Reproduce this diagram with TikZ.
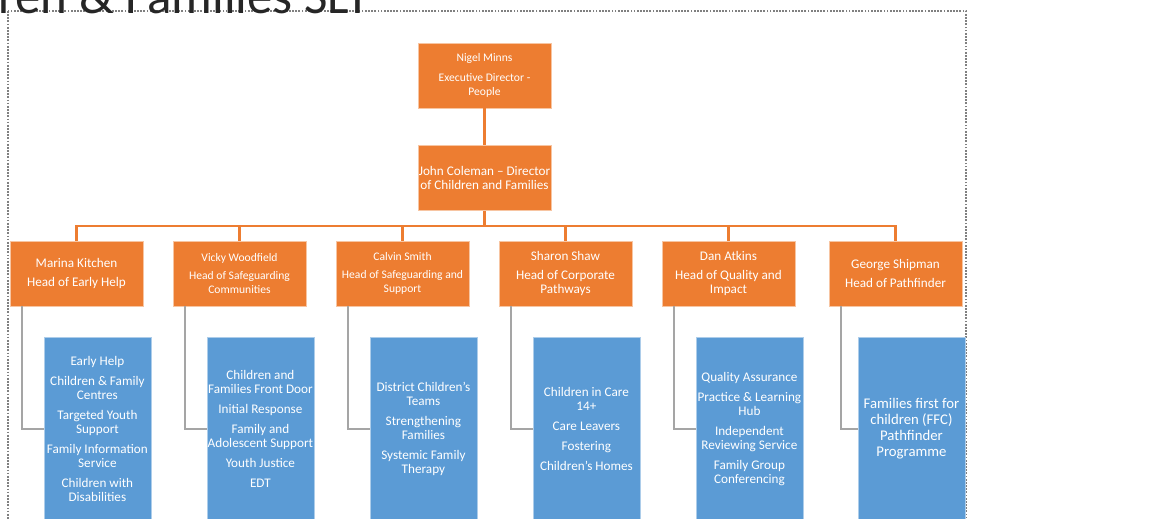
\documentclass[tikz,border=0pt]{standalone}
\usepackage{fontspec}
\setmainfont{Carlito}
\usepackage{xcolor}
\usetikzlibrary{positioning}

\definecolor{slorange}{HTML}{ED7D31}
\definecolor{slblue}{HTML}{5B9BD5}
\definecolor{slgrey}{HTML}{A5A5A5}

\newcommand{\bigtxt}{\fontsize{7.5}{8}\selectfont}
\newcommand{\smalltxt}{\fontsize{6.6}{7.9}\selectfont}

\begin{document}
\begin{tikzpicture}[
    x=0.02cm, y=-0.02cm,
    node distance=0.6cm,
    head/.style={rectangle, draw=slorange!45!white, line width=0.5pt, fill=slorange, text=white, minimum width=2.66cm, minimum height=1.3cm, align=center, inner sep=0pt, font=\bigtxt},
    smallhead/.style={head, font=\smalltxt},
    unit/.style={rectangle, draw=slblue!50!white, line width=0.4pt, fill=slblue, text=white, minimum width=2.14cm, minimum height=3.64cm, align=center, inner sep=0pt, font=\bigtxt},
    orgline/.style={draw=slorange, line width=1.3pt},
    greyline/.style={draw=slgrey, line width=1.2pt},
    frame/.style={draw=gray, line width=0.6pt, dash pattern=on 1pt off 0.8pt}
]

\useasboundingbox (0,0) rectangle (1175,519);
\clip (0,0) rectangle (1175,519);

% Slide frame and title
\draw[frame] (8,11) rectangle (966,540);
\node[anchor=base west, inner sep=0pt, text=black!85, font=\fontsize{29}{30}\selectfont] (title) at (-2,14) {ren \& Families SLT};

% Directors
\node[smallhead] (nigel) at (484.5,75.5) {Nigel Minns\\[3.4pt] Executive Director -\\ People};
\node[head, below=0.74cm of nigel] (john) {John Coleman -- Director\\ of Children and Families};

% Heads of service
\node[head] (marina) at (76.5,273.5) {Marina Kitchen\\[3.3pt] Head of Early Help};
\node[smallhead] (vicky) at (239.5,273.5) {Vicky Woodfield\\[2.3pt] Head of Safeguarding\\ Communities};
\node[smallhead] (calvin) at (402.5,273.5) {Calvin Smith\\[2.3pt] Head of Safeguarding and\\ Support};
\node[head] (sharon) at (565.5,273.5) {Sharon Shaw\\[3.3pt] Head of Corporate\\ Pathways};
\node[head] (dan) at (728.5,273.5) {Dan Atkins\\[3.3pt] Head of Quality and\\ Impact};
\node[head] (george) at (895.5,273.5) {George Shipman\\[3.3pt] Head of Pathfinder};

% Service areas
\node[unit, below right=0.62cm and 0.68cm of marina.south west] (marinaunit) {Early Help\\[3.3pt] Children \& Family\\ Centres\\[3.3pt] Targeted Youth\\ Support\\[3.3pt] Family Information\\ Service\\[3.3pt] Children with\\ Disabilities};
\node[unit, below right=0.62cm and 0.68cm of vicky.south west] (vickyunit) {Children and\\ Families Front Door\\[3.3pt] Initial Response\\[3.3pt] Family and\\ Adolescent Support\\[3.3pt] Youth Justice\\[3.3pt] EDT};
\node[unit, below right=0.62cm and 0.68cm of calvin.south west] (calvinunit) {District Children’s\\ Teams\\[3.3pt] Strengthening\\ Families\\[3.3pt] Systemic Family\\ Therapy};
\node[unit, below right=0.62cm and 0.68cm of sharon.south west] (sharonunit) {Children in Care\\ 14+\\[3.3pt] Care Leavers\\[3.3pt] Fostering\\[3.3pt] Children’s Homes};
\node[unit, below right=0.62cm and 0.68cm of dan.south west] (danunit) {Quality Assurance\\[3.3pt] Practice \& Learning\\ Hub\\[3.3pt] Independent\\ Reviewing Service\\[3.3pt] Family Group\\ Conferencing};
\node[unit, below right=0.62cm and 0.58cm of george.south west, font=\fontsize{8.4}{9}\selectfont] (georgeunit) {Families first for\\ children (FFC)\\ Pathfinder\\ Programme};

% Reporting lines
\coordinate (bus) at (484.5,226);
\draw[orgline] (nigel) -- (john);
\draw[orgline] (john.south) -- (john.south |- bus);
\draw[orgline] (marina.north) |- (bus) -| (george.north);
\draw[orgline] (vicky.north) -- (vicky.north |- bus);
\draw[orgline] (calvin.north) -- (calvin.north |- bus);
\draw[orgline] (sharon.north) -- (sharon.north |- bus);
\draw[orgline] (dan.north) -- (dan.north |- bus);

% Head to service links
\draw[greyline] ([xshift=0.24cm]marina.south west) |- (marinaunit.west);
\draw[greyline] ([xshift=0.24cm]vicky.south west) |- (vickyunit.west);
\draw[greyline] ([xshift=0.24cm]calvin.south west) |- (calvinunit.west);
\draw[greyline] ([xshift=0.24cm]sharon.south west) |- (sharonunit.west);
\draw[greyline] ([xshift=0.24cm]dan.south west) |- (danunit.west);
\draw[greyline] ([xshift=0.24cm]george.south west) |- (georgeunit.west);

\end{tikzpicture}
\end{document}
